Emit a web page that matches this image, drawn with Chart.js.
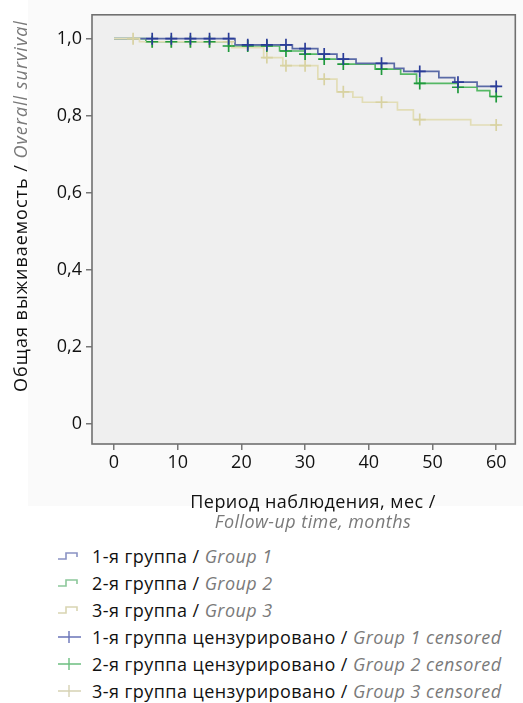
<!DOCTYPE html>
<html>
<head>
<meta charset="utf-8">
<title>Общая выживаемость</title>
<script src="https://cdn.jsdelivr.net/npm/chart.js@4/dist/chart.umd.min.js"></script>
<style>
  html, body { margin: 0; padding: 0; background: #fff; }
  body { width: 523px; height: 703px; position: relative; overflow: hidden; font-family: "Open Sans", sans-serif; }
  #wrap { position: absolute; left: 0; top: 0; width: 523px; height: 540px; }
  .row { position: absolute; left: 57px; height: 24px; display: flex; align-items: center; font-size: 18px; letter-spacing: 0.45px; color: #111; white-space: nowrap; }
  .row svg { width: 26px; height: 14px; margin-right: 9px; flex: none; }
  .row i { color: #7a7a7a; }
</style>
</head>
<body>
<div id="wrap"><canvas id="km"></canvas></div>
<div id="legend"></div>
<script>
// Kaplan–Meier steps: time of each drop (months) and survival after it
const group1Times = [0, 19, 28, 32, 35, 38, 44, 45.5, 51, 53.5, 57, 60.3];
const group1Surv  = [1.0, 0.984, 0.974, 0.960, 0.947, 0.936, 0.923, 0.915, 0.899, 0.887, 0.876, 0.876];
const group2Times = [0, 5, 18, 26, 30, 33, 36, 41, 45, 47.5, 54, 57, 59, 60.3];
const group2Surv  = [1.0, 0.992, 0.981, 0.968, 0.960, 0.947, 0.934, 0.921, 0.908, 0.884, 0.874, 0.865, 0.850, 0.850];
const group3Times = [0, 4, 18.5, 23.5, 26.5, 32, 35, 37.5, 39, 44.5, 47, 56, 60.5];
const group3Surv  = [1.0, 0.992, 0.977, 0.951, 0.930, 0.895, 0.862, 0.848, 0.835, 0.815, 0.790, 0.776, 0.776];

// Censoring times (months)
const group1Censored = [6, 9, 12, 15, 18, 21, 24, 27, 30, 33, 36, 42, 48, 54, 60];
const group2Censored = [6, 9, 12, 15, 18, 21, 24, 27, 30, 33, 36, 42, 48, 54, 60];
const group3Censored = [3, 6, 9, 12, 15, 18, 24, 27, 30, 33, 36, 42, 48, 60];

// Axis ticks
const xTickValues = [0, 10, 20, 30, 40, 50, 60];
const yTickValues = [0, 0.2, 0.4, 0.6, 0.8, 1.0];
const yTickLabels = ['0', '0,2', '0,4', '0,6', '0,8', '1,0'];

// Legend entries
const legendItems = [
  { ru: '1-я группа / ', en: 'Group 1', icon: 'step', color: '#8a93c4' },
  { ru: '2-я группа / ', en: 'Group 2', icon: 'step', color: '#8cc79a' },
  { ru: '3-я группа / ', en: 'Group 3', icon: 'step', color: '#d9d5b2' },
  { ru: '1-я группа цензурировано / ', en: 'Group 1 censored', icon: 'cross', color: '#6a74b8' },
  { ru: '2-я группа цензурировано / ', en: 'Group 2 censored', icon: 'cross', color: '#6cbf80' },
  { ru: '3-я группа цензурировано / ', en: 'Group 3 censored', icon: 'cross', color: '#d6d2b4' }
];

const FONT = '"Open Sans", sans-serif';

function curve(times, surv) {
  return times.map((t, i) => ({ x: t, y: surv[i] }));
}
function survivalAt(times, surv, t) {
  let s = surv[0];
  for (let i = 0; i < times.length; i++) if (times[i] <= t) s = surv[i];
  return s;
}
function censorPoints(cens, times, surv) {
  return cens.map(t => ({ x: t, y: survivalAt(times, surv, t) }));
}

function lineSet(times, surv, color, order) {
  return { data: curve(times, surv), showLine: true, stepped: true, borderColor: color,
           borderWidth: 1.7, pointRadius: 0, fill: false, order: order };
}
function censorSet(cens, times, surv, color, order) {
  return { data: censorPoints(cens, times, surv), showLine: false, pointStyle: 'cross',
           pointRadius: 6, pointBorderWidth: 1.7, pointBorderColor: color, borderColor: color,
           backgroundColor: color, order: order };
}

function drawMixed(ctx, parts, cx, cy, spacing) {
  ctx.letterSpacing = spacing;
  let total = 0;
  parts.forEach(p => { ctx.font = p.font; p.w = ctx.measureText(p.text).width; total += p.w; });
  let x = cx - total / 2;
  ctx.textBaseline = 'middle';
  ctx.textAlign = 'left';
  parts.forEach(p => { ctx.font = p.font; ctx.fillStyle = p.color; ctx.fillText(p.text, x, cy); x += p.w; });
}

const decor = {
  id: 'decor',
  beforeDraw(chart) {
    const { ctx, chartArea: a } = chart;
    ctx.save();
    ctx.fillStyle = '#fafafa';
    ctx.fillRect(28, 0, chart.width - 28, 506);
    ctx.fillStyle = '#efefef';
    ctx.fillRect(a.left, a.top, a.right - a.left, a.bottom - a.top);
    ctx.restore();
  },
  afterDraw(chart) {
    const { ctx, chartArea: a } = chart;
    ctx.save();
    ctx.strokeStyle = '#707070';
    ctx.lineWidth = 1.6;
    ctx.strokeRect(a.left, a.top, a.right - a.left, a.bottom - a.top);

    const normal = '18px ' + FONT;
    const italic = 'italic 18px ' + FONT;
    // y-axis title
    ctx.save();
    ctx.translate(22, 206);
    ctx.rotate(-Math.PI / 2);
    drawMixed(ctx, [
      { text: 'Общая выживаемость / ', font: normal, color: '#111' },
      { text: 'Overall survival', font: italic, color: '#7a7a7a' }
    ], 0, 0, '1px');
    ctx.restore();
    // x-axis title
    drawMixed(ctx, [{ text: 'Период наблюдения, мес /', font: normal, color: '#111' }], 313, 503, '0.45px');
    drawMixed(ctx, [{ text: 'Follow-up time, months', font: italic, color: '#7a7a7a' }], 313, 523, '0.45px');
    ctx.restore();
  }
};

new Chart(document.getElementById('km'), {
  type: 'scatter',
  data: {
    datasets: [
      censorSet(group1Censored, group1Times, group1Surv, '#2a3c98', 0),
      censorSet(group2Censored, group2Times, group2Surv, '#1f9a3c', 1),
      censorSet(group3Censored, group3Times, group3Surv, '#d8d2a2', 2),
      lineSet(group3Times, group3Surv, '#e2ddb6', 3),
      lineSet(group1Times, group1Surv, '#5a6aa6', 4),
      lineSet(group2Times, group2Surv, '#55b865', 5)
    ]
  },
  options: {
    responsive: true,
    maintainAspectRatio: false,
    animation: false,
    layout: { padding: { left: 0, top: 13, right: 2, bottom: 0 } },
    plugins: { legend: { display: false }, tooltip: { enabled: false } },
    scales: {
      x: {
        type: 'linear', min: -3.45, max: 63,
        afterBuildTicks: s => { s.ticks = xTickValues.map(v => ({ value: v })); },
        afterFit: s => { s.height = 96; },
        ticks: { color: '#111', font: { family: FONT, size: 18 }, padding: 2, callback: v => String(v) },
        grid: { drawOnChartArea: false, drawTicks: true, tickLength: 6, color: '#777', lineWidth: 1.5 },
        border: { display: false }
      },
      y: {
        type: 'linear', min: -0.052, max: 1.062,
        afterBuildTicks: s => { s.ticks = yTickValues.map(v => ({ value: v })); },
        afterFit: s => { s.width = 92; },
        ticks: { color: '#111', font: { family: FONT, size: 18 }, padding: 4,
                 callback: (v, i) => yTickLabels[i] },
        grid: { drawOnChartArea: false, drawTicks: true, tickLength: 6, color: '#777', lineWidth: 1.5 },
        border: { display: false }
      }
    }
  },
  plugins: [decor]
});

// Legend
const legend = document.getElementById('legend');
const rowCenters = [556, 583, 610, 637, 664, 691];
legendItems.forEach((item, i) => {
  const row = document.createElement('div');
  row.className = 'row';
  row.style.top = (rowCenters[i] - 12) + 'px';
  const icon = item.icon === 'step'
    ? '<svg viewBox="0 0 26 14"><path d="M1 10 H9 V4 H20 V8" fill="none" stroke="' + item.color + '" stroke-width="1.6"/></svg>'
    : '<svg viewBox="0 0 26 14"><path d="M1 7 H24 M12 1 V13" fill="none" stroke="' + item.color + '" stroke-width="1.4"/></svg>';
  row.innerHTML = icon + '<span>' + item.ru + '<i>' + item.en + '</i></span>';
  legend.appendChild(row);
});
</script>
</body>
</html>
